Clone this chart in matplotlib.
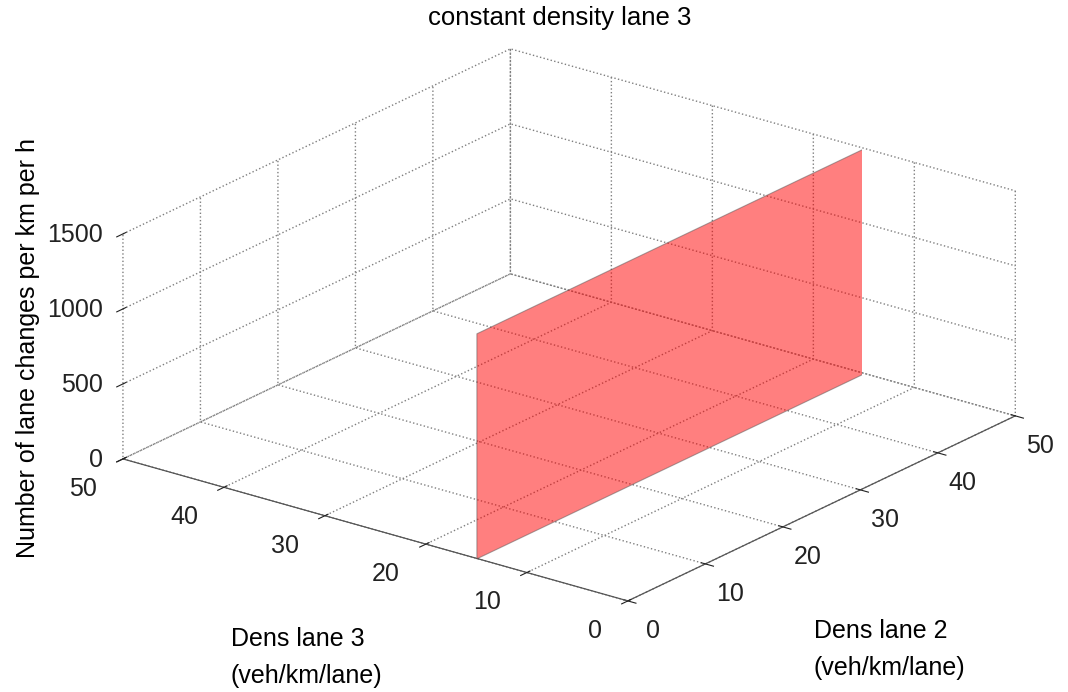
import numpy as np
import matplotlib
matplotlib.use("Agg")
import matplotlib.pyplot as plt

# data
lane3_const = 15                # constant density lane 3 (veh/km/lane)
lane2_span = [0, 50]            # density lane 2 covered by the plane
changes_span = [0, 1500]        # lane changes per km per h
xticks = [0, 10, 20, 30, 40, 50]
yticks = [0, 10, 20, 30, 40, 50]
zticks = [0, 500, 1000, 1500]

plt.rcParams['font.family'] = ['Liberation Sans', 'DejaVu Sans']
plt.rcParams['grid.linestyle'] = ':'
plt.rcParams['grid.color'] = '#7f7f7f'
plt.rcParams['grid.linewidth'] = 1.0

fig = plt.figure(figsize=(10.68, 6.92), dpi=100)
ax = fig.add_axes([0.2444, 0.0853, 0.5618, 0.867], projection='3d', proj_type='ortho')

X, Z = np.meshgrid(lane2_span, changes_span)
Y = np.full_like(X, lane3_const, dtype=float)
ax.plot_surface(X, Y, Z, color=(1, 0, 0), alpha=0.5, edgecolor='#555555',
                linewidth=0.8, shade=False)

ax.set_xlim(0, 50)
ax.set_ylim(0, 50)
ax.set_zlim(0, 1500)
ax.set_xticks(xticks)
ax.set_yticks(yticks)
ax.set_zticks(zticks)
ax.tick_params(labelsize=18, colors='#222222')
ax.xaxis.set_tick_params(pad=3)
ax.yaxis.set_tick_params(pad=7)
ax.zaxis.set_tick_params(pad=-3)

# alignment tweaks so labels sit like the matlab ones
for lab in ax.get_yticklabels():
    lab.set_horizontalalignment('right')
    lab.set_verticalalignment('center_baseline')
for lab in ax.get_zticklabels():
    lab.set_horizontalalignment('right')
    lab.set_verticalalignment('center')

for axis in (ax.xaxis, ax.yaxis, ax.zaxis):
    axis.pane.set_facecolor((1, 1, 1, 0))
    axis.pane.set_edgecolor((1, 1, 1, 0))
    axis.line.set_color('#555555')
    axis.line.set_linewidth(0.9)
ax.zaxis.line.set_color((1, 1, 1, 0))

ax.view_init(elev=21.5, azim=-142.5)
ax.set_box_aspect((1, 1, 0.38), zoom=1.508)

fig.text(0.524, 0.974, 'constant density lane 3', ha='center', va='center', fontsize=18.5)
fig.text(0.026, 0.497, 'Number of lane changes per km per h', rotation=90,
         ha='center', va='center', fontsize=18)
fig.text(0.216, 0.05, 'Dens lane 3\n(veh/km/lane)', ha='left', va='center',
         fontsize=18, linespacing=1.7)
fig.text(0.762, 0.0614, 'Dens lane 2\n(veh/km/lane)', ha='left', va='center',
         fontsize=18, linespacing=1.7)

fig.savefig('out.png', dpi=100)
